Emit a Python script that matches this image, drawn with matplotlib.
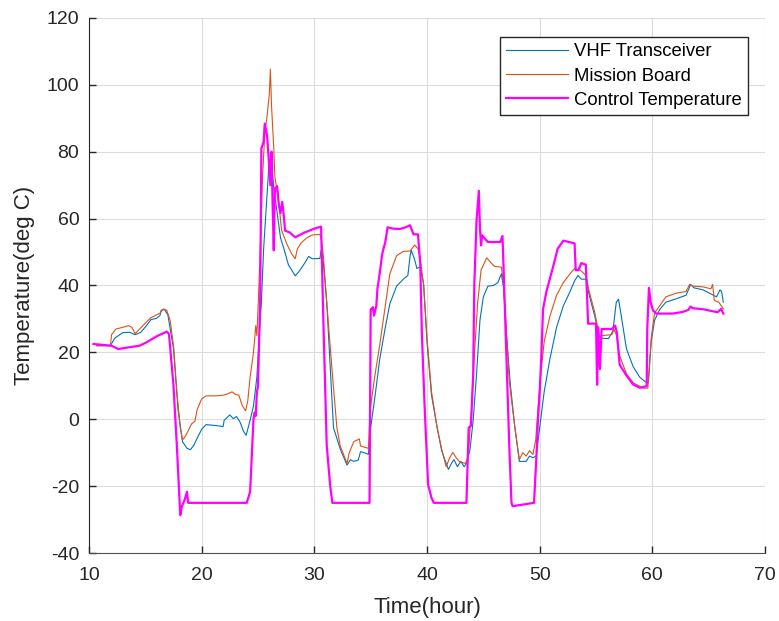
import numpy as np
import matplotlib.pyplot as plt

# (time in hours, temperature in deg C)
vhf_t = [10.7, 11.9, 12.3, 13.0, 13.6, 14.1, 14.6, 15.1, 15.5, 16.0, 16.3, 16.4, 16.7, 17.0, 17.5, 17.9,
         18.3, 18.7, 19.0, 19.3, 19.6, 20.0, 20.4, 21.3, 21.9, 22.0, 22.5, 22.8, 23.1, 23.4, 23.7, 23.95,
         24.3, 24.6, 24.9, 25.1, 25.3, 25.5, 25.8, 26.0, 26.2, 26.4, 26.7, 27.0, 27.3, 27.7, 28.3, 28.6,
         29.05, 29.5, 29.8, 30.5, 30.6, 30.8, 31.1, 31.7, 32.3, 32.9, 33.2, 33.5, 33.9, 34.1, 34.5, 34.8,
         35.0, 35.4, 35.8, 36.3, 36.7, 37.3, 37.9, 38.3, 38.5, 38.6, 38.9, 39.1, 39.4, 39.7, 40.0, 40.4,
         40.9, 41.3, 41.9, 42.2, 42.4, 42.7, 43.0, 43.3, 43.5, 43.8, 44.1, 44.4, 44.7, 45.0, 45.4, 45.9,
         46.3, 46.6, 46.8, 47.05, 47.4, 47.8, 48.2, 48.8, 49.1, 49.4, 49.7, 50.0, 50.4, 50.9, 51.5, 52.1,
         52.7, 53.1, 53.4, 53.7, 54.1, 54.4, 54.9, 55.3, 56.1, 56.5, 56.8, 57.0, 57.2, 57.7, 58.3, 58.9,
         59.5, 59.65, 59.9, 60.2, 60.65, 61.2, 62.1, 63.0, 63.4, 63.7, 64.5, 65.4, 65.7, 66.0, 66.15, 66.3]
vhf_temp = [22.0, 22.0, 24.3, 25.9, 26.0, 25.3, 26.0, 28.0, 29.8, 30.2, 31.0, 32.6, 32.8, 31.2, 21.1, 2.9,
            -6.7, -8.7, -9.1, -7.8, -5.7, -3.0, -1.6, -1.9, -2.2, -0.3, 1.3, 0.2, 0.8, -0.8, -3.5, -4.8,
            -0.3, 4.0, 12.6, 24.3, 35.0, 51.0, 67.0, 77.8, 76.7, 69.2, 61.7, 54.2, 51.0, 46.2, 42.9, 44.0,
            46.2, 48.7, 48.0, 48.1, 50.5, 46.8, 35.0, -2.5, -8.9, -13.7, -12.1, -12.6, -12.2, -9.7, -10.1, -10.5,
            -2.5, 7.2, 17.9, 27.5, 34.5, 39.8, 41.9, 43.0, 48.9, 50.5, 47.8, 45.1, 45.6, 40.3, 23.2, 7.2,
            -2.5, -9.4, -15.0, -13.0, -12.1, -14.2, -12.6, -14.2, -13.2, -9.4, -0.3, 13.6, 29.6, 36.6, 39.8, 40.0,
            40.9, 43.5, 39.2, 25.4, 10.3, -2.5, -12.6, -12.6, -11.0, -11.5, -11.0, -2.5, 8.2, 17.9, 27.5, 33.9,
            38.2, 41.4, 43.0, 41.9, 41.9, 37.1, 30.7, 24.3, 24.1, 26.4, 35.0, 35.9, 31.8, 21.1, 15.7, 12.5,
            10.9, 10.9, 23.2, 29.6, 32.8, 35.0, 36.0, 37.1, 40.3, 39.3, 38.7, 37.1, 36.6, 38.7, 38.2, 35.0]

mission_t = [10.7, 11.9, 12.0, 12.4, 13.0, 13.5, 13.8, 14.1, 14.5, 15.1, 15.5, 16.0, 16.3, 16.6, 16.9, 17.2,
             17.5, 17.8, 18.1, 18.3, 18.55, 18.8, 19.1, 19.4, 19.6, 20.0, 20.4, 21.3, 21.9, 22.3, 22.7, 23.0,
             23.3, 23.6, 23.9, 24.1, 24.3, 24.6, 24.8, 24.9, 25.0, 25.2, 25.4, 25.6, 25.8, 26.0, 26.1, 26.2,
             26.4, 26.5, 26.8, 27.1, 27.6, 28.0, 28.3, 28.5, 28.8, 29.3, 29.8, 30.5, 30.65, 30.8, 31.1, 31.6,
             32.0, 32.3, 32.9, 33.1, 33.5, 34.0, 34.1, 34.8, 34.95, 35.4, 35.8, 36.3, 36.7, 37.3, 37.9, 38.5,
             38.9, 39.2, 39.35, 39.7, 40.0, 40.4, 40.9, 41.3, 41.7, 42.0, 42.3, 42.6, 42.9, 43.4, 43.55, 43.7,
             43.95, 44.2, 44.5, 44.8, 45.3, 45.7, 46.0, 46.6, 46.8, 47.05, 47.3, 47.8, 48.2, 48.5, 48.8, 49.1,
             49.4, 49.65, 49.85, 50.1, 50.4, 50.9, 51.5, 52.1, 52.7, 53.1, 53.6, 54.1, 54.4, 54.9, 55.3, 55.8,
             56.4, 56.6, 56.8, 57.1, 57.7, 58.3, 59.2, 59.6, 59.9, 60.2, 60.65, 61.2, 62.1, 63.0, 63.3, 63.6,
             64.5, 65.2, 65.35, 65.5, 65.9, 66.3]
mission_temp = [22.0, 22.0, 25.3, 27.0, 27.5, 28.0, 27.5, 25.6, 27.0, 29.1, 30.4, 31.2, 31.7, 33.0, 32.6, 29.6,
                22.1, 8.2, -2.5, -6.2, -5.1, -3.5, -1.4, -0.6, 2.9, 6.1, 7.0, 7.0, 7.2, 7.6, 8.2, 7.4,
                7.2, 4.1, 2.5, 5.7, 12.6, 20.0, 28.0, 25.0, 32.8, 51.0, 72.4, 85.2, 90.6, 97.0, 104.7, 93.8,
                81.0, 72.4, 66.0, 56.4, 52.1, 49.4, 48.0, 51.0, 52.6, 54.2, 55.1, 55.3, 53.2, 48.9, 35.0, 13.6,
                -2.5, -8.0, -13.2, -10.0, -6.7, -5.9, -8.0, -8.7, 2.9, 13.6, 22.1, 33.9, 43.5, 48.9, 50.2, 50.3,
                52.1, 51.0, 48.9, 40.3, 24.3, 8.2, -2.5, -8.9, -14.2, -11.6, -9.9, -11.6, -12.7, -13.2, -12.2, -8.9,
                2.9, 19.0, 35.0, 44.6, 48.3, 46.7, 45.7, 45.5, 40.3, 26.5, 11.4, -2.5, -12.1, -10.0, -11.0, -9.4,
                -10.5, -6.2, 2.9, 13.6, 23.2, 30.7, 37.1, 40.9, 43.5, 45.1, 44.6, 43.0, 38.2, 31.8, 24.8, 25.1,
                25.3, 26.9, 25.3, 19.0, 13.6, 10.9, 9.3, 9.3, 24.3, 31.8, 33.9, 36.6, 37.7, 38.2, 40.3, 39.8,
                39.6, 39.0, 40.3, 35.5, 35.0, 33.0]

control_t = [10.4, 12.0, 12.6, 13.5, 14.5, 15.1, 16.0, 16.9, 17.1, 17.5, 17.8, 18.1, 18.25, 18.5, 18.7, 18.8,
             19.0, 24.0, 24.3, 24.6, 24.7, 24.8, 24.9, 25.0, 25.2, 25.3, 25.5, 25.6, 25.8, 25.95, 26.1, 26.2,
             26.3, 26.4, 26.5, 26.7, 26.85, 27.0, 27.15, 27.3, 27.4, 27.8, 28.3, 29.1, 30.0, 30.6, 30.8, 31.1,
             31.4, 31.6, 34.9, 35.0, 35.2, 35.3, 35.5, 35.6, 35.8, 36.0, 36.1, 36.3, 36.5, 37.0, 37.6, 38.1,
             38.5, 38.8, 39.2, 39.4, 39.55, 39.8, 40.1, 40.4, 40.6, 43.5, 43.7, 43.9, 44.1, 44.2, 44.4, 44.6,
             44.7, 44.8, 44.9, 45.4, 46.0, 46.5, 46.7, 46.8, 47.05, 47.3, 47.5, 47.6, 49.5, 49.7, 49.85, 50.0,
             50.15, 50.3, 50.6, 51.2, 51.6, 52.1, 52.6, 53.1, 53.2, 53.45, 53.7, 54.1, 54.2, 54.3, 54.7, 55.0,
             55.1, 55.2, 55.35, 55.5, 55.9, 56.4, 56.7, 56.85, 57.1, 57.7, 58.3, 58.9, 59.5, 59.55, 59.7, 59.85,
             60.05, 60.35, 61.0, 61.8, 62.7, 63.2, 63.4, 63.6, 64.5, 65.4, 65.8, 66.1, 66.3]
control_temp = [22.5, 22.0, 21.0, 21.5, 22.0, 23.0, 24.8, 26.2, 25.5, 10.0, -8.0, -28.7, -26.0, -24.0, -21.7, -25.0,
                -25.0, -25.0, -21.7, 0.0, 2.0, 1.0, 8.0, 10.0, 37.0, 81.0, 83.0, 88.4, 85.0, 78.0, 70.0, 80.0,
                64.0, 50.5, 69.0, 69.7, 64.0, 61.7, 65.0, 60.6, 56.4, 55.9, 54.4, 55.8, 57.0, 57.6, 29.6, -7.8,
                -19.6, -25.0, -25.0, 32.8, 33.5, 31.0, 33.9, 39.0, 43.5, 48.9, 50.5, 53.0, 57.4, 57.0, 56.9, 57.4,
                58.0, 55.3, 55.3, 46.7, 25.0, 2.9, -19.6, -23.5, -25.0, -25.0, -2.5, -2.0, 13.6, 40.3, 59.6, 68.3,
                57.0, 52.0, 55.0, 53.0, 53.0, 53.0, 54.8, 45.0, 19.0, -7.8, -25.0, -26.0, -25.0, -12.0, 0.0, 8.0,
                19.0, 32.9, 38.2, 45.7, 51.0, 53.4, 53.0, 52.6, 44.6, 44.6, 46.7, 46.2, 37.0, 28.6, 28.6, 28.6,
                10.3, 27.5, 15.0, 27.0, 27.0, 27.0, 28.0, 26.0, 16.3, 13.1, 10.4, 9.4, 9.9, 27.0, 39.3, 35.0,
                32.6, 31.6, 31.6, 31.6, 32.1, 32.7, 33.7, 33.2, 32.9, 32.3, 32.0, 33.0, 31.6]

plt.rcParams['font.family'] = ['Liberation Sans', 'DejaVu Sans']
plt.rcParams['axes.unicode_minus'] = False

fig = plt.figure(figsize=(7.79, 6.21), dpi=100)
# axes box from x=89..765 px, y=18..553 px
ax = fig.add_axes([89 / 779, 1 - 553 / 621, 676 / 779, 535 / 621])

ax.plot(vhf_t, vhf_temp, color='#0072BD', lw=0.8, label='VHF Transceiver')
ax.plot(mission_t, mission_temp, color='#D95319', lw=0.8, label='Mission Board')
ax.plot(control_t, control_temp, color='#FF00FF', lw=1.6, label='Control Temperature')

ax.set_xlim(10, 70)
ax.set_ylim(-40, 120)
ax.set_xticks(np.arange(10, 71, 10))
ax.set_yticks(np.arange(-40, 121, 20))
ax.grid(True, color='#dcdcdc', lw=0.8)
ax.set_axisbelow(True)
for s in ['top', 'right']:
    ax.spines[s].set_visible(False)
ax.spines['left'].set_color('#262626')
ax.spines['bottom'].set_color('#505050')
ax.tick_params(direction='in', length=5, width=1, colors='#262626', labelsize=14)
ax.tick_params(axis='x', pad=10)
ax.tick_params(axis='y', pad=7)

ax.set_xlabel('Time(hour)', fontsize=16, color='#262626')
ax.set_ylabel('Temperature(deg C)', fontsize=16, color='#262626')
ax.xaxis.set_label_coords(0.5, (553 - 608) / 535)
ax.yaxis.set_label_coords((25 - 89) / 676, 0.5)
ax.xaxis.label.set_va('center')
ax.yaxis.label.set_va('center')

leg = ax.legend(loc='upper right', bbox_to_anchor=((748 - 89) / 676, (553 - 37) / 535), borderaxespad=0,
                fancybox=False, handlelength=3.35, fontsize=13.3, borderpad=0.35, labelspacing=0.39,
                handletextpad=0.3, framealpha=1)
leg.get_frame().set_edgecolor('#262626')
leg.get_frame().set_linewidth(1.0)

fig.savefig('out.png', dpi=100)
